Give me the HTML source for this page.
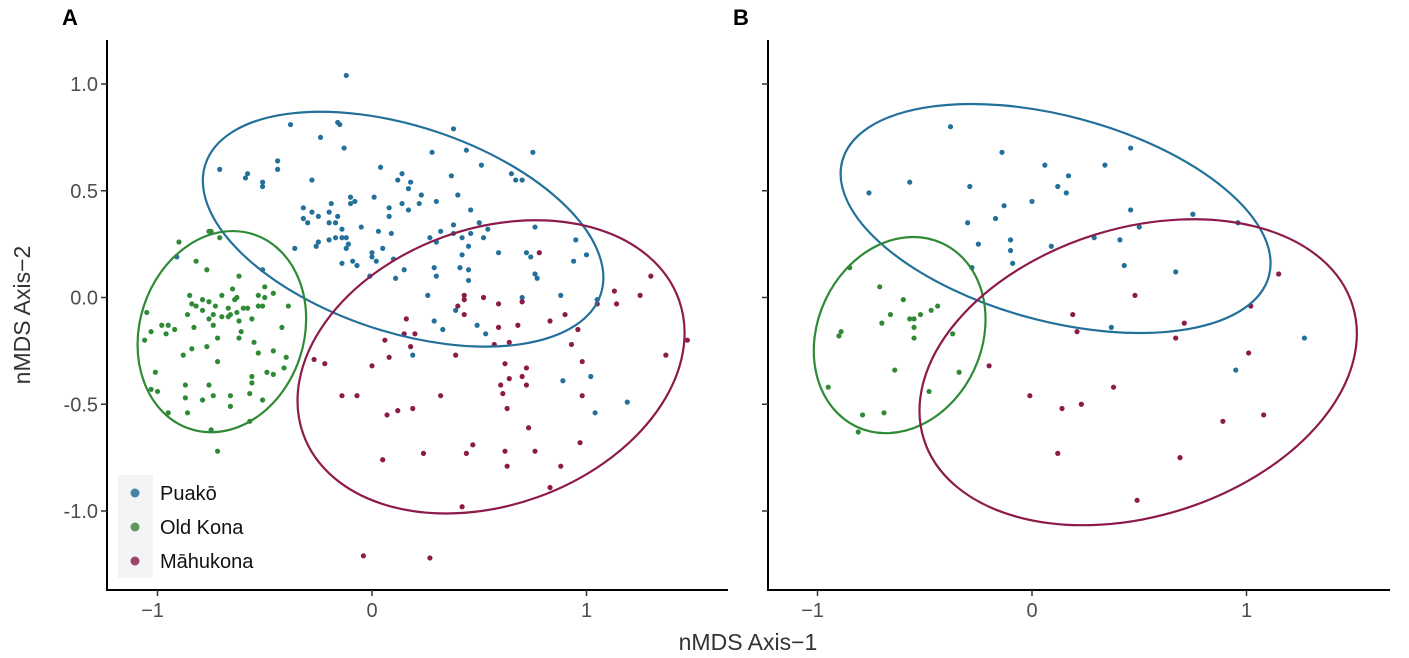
<!DOCTYPE html>
<html><head><meta charset="utf-8"><style>
body{margin:0;background:#fff;}
svg{display:block;font-family:"Liberation Sans",sans-serif;}
</style></head><body>
<svg id="chart" width="1409" height="658" viewBox="0 0 1409 658">
<text x="62" y="25" font-size="22" font-weight="bold">A</text>
<text x="733" y="25" font-size="22" font-weight="bold">B</text>
<text x="748" y="650" font-size="23" text-anchor="middle" fill="#333">nMDS Axis−1</text>
<text transform="translate(30,315) rotate(-90)" font-size="23" text-anchor="middle" fill="#333">nMDS Axis−2</text>
<g id="pa"></g>
<g id="pb"></g>
<g>
<rect x="118" y="475" width="35" height="103" fill="#f3f4f6"/>
<circle cx="135" cy="493" r="4.5" fill="#4a81a6"/>
<circle cx="135" cy="527" r="4.5" fill="#5e9a57"/>
<circle cx="135" cy="561" r="4.5" fill="#9b4668"/>
<text x="160" y="500" font-size="20" fill="#111">Puakō</text>
<text x="160" y="534" font-size="20" fill="#111">Old Kona</text>
<text x="160" y="568" font-size="20" fill="#111">Māhukona</text>
</g>
</svg>
<script>
const xTicks=[-1,0,1];
const yTicks=[1.0,0.5,0.0,-0.5,-1.0];
const yTickLabels=["1.0","0.5","0.0","-0.5","-1.0"];
const colors={blue:"#23709a",green:"#2f8a36",red:"#8c1a4b"};
const aBlueX=[-0.12,-0.38,-0.24,-0.16,-0.15,-0.13,0.38,0.28,0.44,0.75,0.51,-0.71,-0.59,-0.58,-0.51,-0.51,-0.44,-0.44,-0.28,0.04,0.14,0.12,0.18,0.17,0.23,0.22,0.17,0.14,0.30,0.37,0.40,0.46,0.65,0.67,0.70,0.01,-0.10,-0.08,-0.10,-0.19,-0.32,-0.28,-0.32,-0.30,-0.25,-0.20,-0.16,-0.20,-0.17,-0.14,-0.17,-0.14,-0.12,-0.20,-0.25,-0.26,-0.11,-0.12,-0.05,0.03,0.09,0.08,0.08,-0.36,-0.14,-0.09,-0.07,0.00,0.02,0.00,0.05,0.10,-0.01,0.11,0.15,0.27,0.32,0.30,0.38,0.38,0.42,0.46,0.50,0.54,0.52,0.45,0.42,0.59,0.72,0.74,0.76,0.95,1.00,0.94,0.76,0.77,0.29,0.30,0.41,0.45,0.45,0.26,0.70,0.88,1.05,0.39,0.49,0.53,0.33,0.29,-0.51,-0.91,0.19,0.89,1.02,1.19,1.04];
const aBlueY=[1.04,0.81,0.75,0.82,0.81,0.70,0.79,0.68,0.69,0.68,0.62,0.60,0.56,0.58,0.54,0.52,0.64,0.60,0.55,0.61,0.58,0.55,0.54,0.51,0.48,0.44,0.41,0.44,0.45,0.57,0.48,0.41,0.58,0.55,0.55,0.47,0.47,0.45,0.44,0.44,0.42,0.40,0.37,0.35,0.38,0.40,0.38,0.35,0.35,0.32,0.28,0.28,0.28,0.27,0.26,0.24,0.25,0.23,0.33,0.31,0.30,0.42,0.38,0.23,0.16,0.17,0.15,0.21,0.17,0.19,0.23,0.18,0.10,0.09,0.13,0.28,0.31,0.26,0.34,0.30,0.28,0.30,0.35,0.32,0.28,0.24,0.20,0.21,0.21,0.19,0.33,0.27,0.20,0.17,0.11,0.09,0.14,0.10,0.14,0.13,0.08,0.01,0.00,0.01,-0.01,-0.06,-0.13,-0.17,-0.15,-0.11,0.13,0.19,-0.27,-0.39,-0.37,-0.49,-0.54];
const aGreenX=[-0.76,-0.90,-0.75,-0.71,-0.82,-0.77,-0.62,-1.05,-0.98,-0.95,-0.92,-0.96,-1.03,-1.06,-0.85,-0.79,-0.84,-0.82,-0.86,-0.83,-0.79,-0.76,-0.73,-0.70,-0.67,-0.65,-0.64,-0.63,-0.60,-0.58,-0.74,-0.76,-0.70,-0.66,-0.63,-0.67,-0.74,-0.61,-0.62,-0.56,-0.53,-0.50,-0.53,-0.51,-0.46,-0.50,-0.39,-0.42,-0.55,-0.53,-0.46,-0.40,-0.62,-0.72,-0.77,-0.84,-0.88,-0.72,-1.01,-1.03,-1.00,-0.87,-0.76,-0.87,-0.79,-0.74,-0.66,-0.66,-0.57,-0.56,-0.56,-0.49,-0.46,-0.41,-0.51,-0.86,-0.95,-0.75,-0.57,-0.72];
const aGreenY=[0.31,0.26,0.31,0.28,0.17,0.13,0.10,-0.07,-0.13,-0.13,-0.15,-0.17,-0.16,-0.20,0.01,-0.01,-0.03,-0.04,-0.08,-0.14,-0.06,-0.02,-0.04,0.01,-0.05,0.04,-0.01,0.00,-0.05,-0.05,-0.08,-0.10,-0.09,-0.08,-0.07,-0.09,-0.13,-0.16,-0.11,-0.10,0.01,0.00,-0.04,-0.04,0.02,0.05,-0.04,-0.14,-0.21,-0.26,-0.25,-0.28,-0.19,-0.19,-0.23,-0.24,-0.27,-0.30,-0.35,-0.43,-0.44,-0.41,-0.41,-0.47,-0.48,-0.46,-0.46,-0.51,-0.45,-0.40,-0.37,-0.35,-0.36,-0.33,-0.48,-0.54,-0.54,-0.62,-0.58,-0.72];
const aRedX=[0.78,1.30,1.13,1.25,1.14,1.05,0.96,0.90,0.83,0.68,0.59,0.43,0.43,0.52,0.59,0.40,0.43,0.16,0.15,0.20,0.70,1.47,1.37,0.93,0.98,0.98,0.97,0.88,0.83,0.76,0.73,0.63,0.61,0.60,0.64,0.70,0.72,0.72,0.62,0.62,0.63,0.44,0.47,0.42,0.24,0.05,0.07,0.12,0.19,0.32,-0.07,-0.14,0.00,0.08,0.06,-0.22,-0.27,0.39,0.18,-0.04,0.27,0.64,0.57];
const aRedY=[0.21,0.10,0.03,0.01,-0.03,-0.03,-0.15,-0.08,-0.11,-0.13,-0.14,0.01,-0.01,0.00,-0.03,-0.04,-0.08,-0.10,-0.17,-0.17,-0.02,-0.20,-0.27,-0.22,-0.30,-0.46,-0.68,-0.79,-0.89,-0.72,-0.61,-0.52,-0.45,-0.41,-0.38,-0.37,-0.33,-0.41,-0.31,-0.72,-0.79,-0.73,-0.69,-0.98,-0.73,-0.76,-0.55,-0.53,-0.52,-0.46,-0.46,-0.46,-0.32,-0.28,-0.20,-0.31,-0.29,-0.27,-0.23,-1.21,-1.22,-0.21,-0.22];
const bBlueX=[-0.38,-0.14,0.46,0.06,0.34,0.17,0.12,0.16,0.00,-0.13,-0.17,-0.30,-0.29,-0.57,-0.76,0.46,0.75,0.96,0.50,-0.10,-0.10,-0.25,0.09,0.29,0.41,-0.09,0.43,0.67,0.37,1.27,0.95,-0.28];
const bBlueY=[0.80,0.68,0.70,0.62,0.62,0.57,0.52,0.49,0.45,0.43,0.37,0.35,0.52,0.54,0.49,0.41,0.39,0.35,0.33,0.27,0.22,0.25,0.24,0.28,0.27,0.16,0.15,0.12,-0.14,-0.19,-0.34,0.14];
const bGreenX=[-0.85,-0.71,-0.60,-0.66,-0.70,-0.57,-0.55,-0.52,-0.47,-0.44,-0.55,-0.55,-0.89,-0.90,-0.37,-0.34,-0.48,-0.64,-0.95,-0.79,-0.69,-0.81];
const bGreenY=[0.14,0.05,-0.01,-0.08,-0.12,-0.10,-0.10,-0.08,-0.06,-0.04,-0.14,-0.19,-0.16,-0.18,-0.17,-0.35,-0.44,-0.34,-0.42,-0.55,-0.54,-0.63];
const bRedX=[1.15,0.48,0.19,0.71,0.21,0.67,1.02,1.01,-0.20,-0.01,0.14,0.23,0.38,0.89,1.08,0.12,0.69,0.49];
const bRedY=[0.11,0.01,-0.08,-0.12,-0.16,-0.19,-0.04,-0.26,-0.32,-0.46,-0.52,-0.50,-0.42,-0.58,-0.55,-0.73,-0.75,-0.95];
// ellipse params: center x, center y (data), semi-axes (data), rotation deg
const aEllBlue=[0.145,0.32,0.97,0.48,18.2];
const aEllGreen=[-0.70,-0.16,0.383,0.477,18];
const aEllRed=[0.555,-0.325,0.93,0.645,-19.7];
const bEllBlue=[0.11,0.37,1.03,0.478,15.1];
const bEllGreen=[-0.617,-0.176,0.383,0.472,25];
const bEllRed=[0.495,-0.35,1.047,0.672,-17.3];

const NS="http://www.w3.org/2000/svg";
const KX=214.5, KY=213.5, Y0=297.5;
function mk(tag,attrs,parent){const e=document.createElementNS(NS,tag);for(const k in attrs)e.setAttribute(k,attrs[k]);parent.appendChild(e);return e;}
function panel(g,x0,axLeft,axRight,showY,sets,ells){
  const sx=v=>x0+v*KX, sy=v=>Y0-v*KY;
  const ax=mk('line',{x1:axLeft,y1:40,x2:axLeft,y2:590,stroke:'#000','stroke-width':2},g);
  
  
  const bx=mk('line',{x1:axLeft-1,y1:590,x2:axRight,y2:590,stroke:'#000','stroke-width':2},g);
  
  
  yTicks.forEach((t,i)=>{
    const tk=mk('line',{x1:axLeft-6,y1:sy(t),x2:axLeft,y2:sy(t),stroke:'#333','stroke-width':1.5},g);
    
    
    if(showY){const tl=mk('text',{x:axLeft-9,y:sy(t)+7,'font-size':20,'text-anchor':'end',fill:'#4d4d4d'},g);tl.textContent=yTickLabels[i];
      
      }
  });
  xTicks.forEach(t=>{
    const tk=mk('line',{x1:sx(t),y1:590,x2:sx(t),y2:596,stroke:'#333','stroke-width':1.5},g);
    
    
    const tl=mk('text',{x:sx(t)-(t<0?5:0),y:617,'font-size':20,'text-anchor':'middle',fill:'#4d4d4d'},g);tl.textContent=t<0?'−1':String(t);
    
    
  });
  sets.forEach(([xs,ys,c,n])=>{
    xs.forEach((v,i)=>{const p=mk('circle',{cx:sx(v),cy:sy(ys[i]),r:2.6,fill:c},g);
      
      });
  });
  ells.forEach(([e,c,n])=>{
    const el=mk('ellipse',{cx:sx(e[0]),cy:sy(e[1]),rx:e[2]*KX,ry:e[3]*KX,fill:'none',stroke:c,'stroke-width':2.2,
      transform:`rotate(${e[4]} ${sx(e[0])} ${sy(e[1])})`},g);
    
    
  });
}
panel(document.getElementById('pa'),372,107,728,true,
 [[aBlueX,aBlueY,colors.blue,'puako'],[aGreenX,aGreenY,colors.green,'old-kona'],[aRedX,aRedY,colors.red,'mahukona']],
 [[aEllBlue,colors.blue,'puako'],[aEllGreen,colors.green,'old-kona'],[aEllRed,colors.red,'mahukona']]);
panel(document.getElementById('pb'),1032,768,1390,false,
 [[bBlueX,bBlueY,colors.blue,'puako'],[bGreenX,bGreenY,colors.green,'old-kona'],[bRedX,bRedY,colors.red,'mahukona']],
 [[bEllBlue,colors.blue,'puako'],[bEllGreen,colors.green,'old-kona'],[bEllRed,colors.red,'mahukona']]);
</script>
</body></html>
